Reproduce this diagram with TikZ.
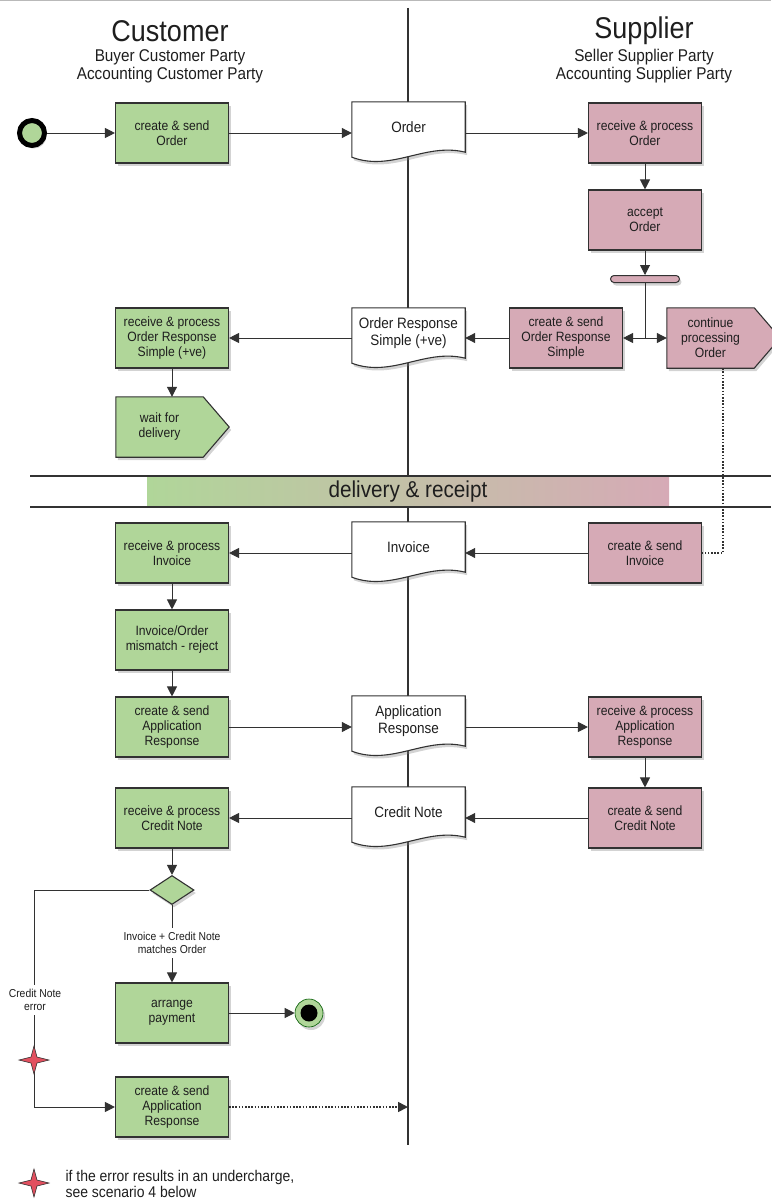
\documentclass[tikz,border=0pt]{standalone}
\usepackage{fontspec}
\setmainfont{Liberation Sans}[FakeStretch=0.9]
\usetikzlibrary{arrows.meta,shapes.geometric,shapes.misc,shadows,calc}
\pgfdeclarelayer{bgzero}
\pgfdeclarelayer{bgone}
\pgfsetlayers{bgzero,bgone,main}
\definecolor{tgreen}{RGB}{176,214,153}
\definecolor{tpink}{RGB}{214,170,182}
\definecolor{edge}{RGB}{50,50,50}
\definecolor{ink}{RGB}{30,30,30}
\definecolor{starred}{RGB}{226,80,95}
\tikzset{
 shad/.style={drop shadow={opacity=0.35,shadow xshift=2pt,shadow yshift=-3pt}},
 task/.style={rectangle, draw=edge, line width=1.1pt, minimum width=113pt, minimum height=60pt, inner sep=2pt, align=center, text=ink, font=\fontsize{13.5}{15}\selectfont, shad},
 ctask/.style={task, fill=tgreen},
 stask/.style={task, fill=tpink},
 docnode/.style={rectangle, minimum width=113pt, minimum height=50pt, inner sep=0pt, align=center, text=ink, font=\fontsize{15}{16.5}\selectfont},
 docline/.style={draw=edge, line width=1.1pt, fill=white, shad},
 pentbody/.style={rectangle, minimum width=87pt, minimum height=60pt, inner sep=0pt, align=center, text=ink, font=\fontsize{13.5}{15}\selectfont},
 arr/.style={-{Triangle[length=10pt,width=10pt]}, line width=1pt, draw=edge},
 conn/.style={line width=1pt, draw=edge},
 dots/.style={line width=1.6pt, draw=edge, dash pattern=on 1.6pt off 1.6pt},
 lane/.style={line width=1.2pt, draw=edge},
 lbl/.style={font=\fontsize{11.5}{12.5}\selectfont, align=center, text=ink, fill=white, inner xsep=1pt, inner ysep=5pt},
 hdr/.style={text=ink, font=\fontsize{30}{32}\selectfont},
 sub/.style={text=ink, align=center, font=\fontsize{17}{18}\selectfont},
 starpt/.style={inner sep=0pt, minimum size=0pt},
 starfill/.style={fill=starred, draw=edge, line width=0.6pt, line join=miter},
}
\newcommand\docoutline[1]{%
 \path[docline] (#1.north west) -- (#1.north east) -- (#1.south east)
   .. controls ($(#1.south east)+(-40pt,10pt)$) and ($(#1.south west)+(40pt,-20pt)$) .. ($(#1.south west)+(0pt,-5pt)$) -- cycle;}
\newcommand\pentoutline[2]{%
 \path[docline, fill=#2] (#1.north west) -- (#1.north east) -- ($(#1.east)+(26pt,0pt)$) -- (#1.south east) -- (#1.south west) -- cycle;}
\newcommand\fourstar[1]{%
 \path[starfill] ($(#1)+(15pt,0pt)$) -- ($(#1)+(3pt,3pt)$) -- ($(#1)+(0pt,14pt)$) -- ($(#1)+(-3pt,3pt)$)
   -- ($(#1)+(-15pt,0pt)$) -- ($(#1)+(-3pt,-3pt)$) -- ($(#1)+(0pt,-14pt)$) -- ($(#1)+(3pt,-3pt)$) -- cycle;}
\begin{document}
\begin{tikzpicture}[x=1pt,y=-1pt]
\useasboundingbox (0,0) rectangle (771,1199);
\draw[gray!55, line width=1pt] (0,1) -- (771,1);

% headers
\node[hdr] (hcust) at (170,31) {Customer};
\node[sub] (scust) at (170,66) {Buyer Customer Party\\Accounting Customer Party};
\node[hdr] (hsupp) at (644,31) {Supplier};
\node[sub] (ssupp) at (644,66) {Seller Supplier Party\\Accounting Supplier Party};

% lane and band
\begin{pgfonlayer}{bgzero}
\draw[lane] (408,8) -- (408,476);
\draw[lane] (408,507) -- (408,1145);
\shade[left color=tgreen, right color=tpink] (147,477) rectangle (669,506);
\draw[lane] (30,476) -- (771,476);
\draw[lane] (30,507) -- (771,507);
\end{pgfonlayer}
\node[text=ink, font=\fontsize{23}{25}\selectfont] (band) at (408,492) {delivery \& receipt};

% start / end
\node[circle, draw=black, line width=5pt, fill=tgreen, minimum size=25pt, inner sep=0pt, shad] (start) at (32,133) {};
\node[circle, draw=green!35!black, line width=0.6pt, fill=tgreen, minimum size=28pt, inner sep=0pt, shad] (endc) at (309,1013) {};
\fill[black] (endc.center) circle (8.5pt);

% customer tasks
\node[ctask] (cso) at (172,133) {create \& send\\Order};
\node[ctask] (rors) at (172,338) {receive \& process\\Order Response\\Simple (+ve)};
\node[pentbody] (wait) at (159.5,427) {wait for\\delivery};
\node[ctask] (rinv) at (172,553) {receive \& process\\Invoice};
\node[ctask] (mism) at (172,640) {Invoice/Order\\mismatch - reject};
\node[ctask] (car) at (172,727) {create \& send\\Application\\Response};
\node[ctask] (rcn) at (172,818) {receive \& process\\Credit Note};
\node[diamond, aspect=1.5, draw=edge, line width=1.1pt, fill=tgreen, minimum width=44pt, minimum height=29pt, inner sep=0pt, shad] (dia) at (172,890) {};
\node[ctask] (pay) at (172,1013) {arrange\\payment};
\node[ctask] (car2) at (172,1107) {create \& send\\Application\\Response};

% supplier tasks
\node[stask] (rpo) at (645,133) {receive \& process\\Order};
\node[stask] (acc) at (645,220) {accept\\Order};
\node[rounded rectangle, draw=edge, line width=1pt, fill=tpink, minimum width=69pt, minimum height=7pt, inner sep=0pt, shad] (fork) at (645,279) {};
\coordinate (split) at (645,338);
\node[stask] (cresp) at (566,338) {create \& send\\Order Response\\Simple};
\node[pentbody] (cont) at (710.5,338) {continue\\processing\\Order};
\node[stask] (cinv) at (645,553) {create \& send\\Invoice};
\node[stask] (rar) at (645,727) {receive \& process\\Application\\Response};
\node[stask] (ccn) at (645,818) {create \& send\\Credit Note};

% documents
\node[docnode] (dorder) at (408.5,127) {Order};
\node[docnode] (dors) at (408.5,333) {Order Response\\Simple (+ve)};
\node[docnode] (dinv) at (408.5,547) {Invoice};
\node[docnode] (dar) at (408.5,721) {Application\\Response};
\node[docnode] (dcn) at (408.5,812) {Credit Note};

\begin{pgfonlayer}{bgone}
\docoutline{dorder}
\docoutline{dors}
\docoutline{dinv}
\docoutline{dar}
\docoutline{dcn}
\pentoutline{wait}{tgreen}
\pentoutline{cont}{tpink}
\end{pgfonlayer}

\coordinate (lanehit) at (408,1107);

% connectors
\draw[arr] (start) -- (cso.west);
\draw[arr] (cso.east) -- (cso.east -| dorder.west);
\draw[arr] (rpo.west -| dorder.east) -- (rpo.west);
\draw[arr] (rpo.south) -- (acc.north);
\draw[arr] (acc.south) -- (fork.north);
\draw[conn] (fork.south) -- (split);
\draw[arr] (split) -- (cresp.east);
\draw[arr] (split) -- (cont.west);
\draw[arr] (cresp.west) -- (cresp.west -| dors.east);
\draw[arr] (cresp.west -| dors.west) -- (rors.east);
\draw[arr] (rors.south) -- (rors.south |- wait.north);
\draw[dots] ([xshift=12.5pt]cont.south) |- (cinv.east);
\draw[arr] (cinv.west) -- (cinv.west -| dinv.east);
\draw[arr] (cinv.west -| dinv.west) -- (rinv.east);
\draw[arr] (rinv.south) -- (mism.north);
\draw[arr] (mism.south) -- (car.north);
\draw[arr] (car.east) -- (car.east -| dar.west);
\draw[arr] (car.east -| dar.east) -- (rar.west);
\draw[arr] (rar.south) -- (ccn.north);
\draw[arr] (ccn.west) -- (ccn.west -| dcn.east);
\draw[arr] (ccn.west -| dcn.west) -- (rcn.east);
\draw[arr] (rcn.south) -- (dia.north);
\draw[arr] (dia.south) -- (pay.north);
\draw[arr] (pay.east) -- (endc.west);
\node[starpt] (star1) at (34,1060) {};
\draw[conn] (dia.west) -| (star1.center);
\draw[arr] (star1.center) |- (car2.west);
\draw[dots, -{Triangle[length=10pt,width=10pt]}] (car2.east) -- (lanehit);

% labels and stars
\node[lbl] (lmatch) at (172,943) {Invoice + Credit Note\\matches Order};
\node[lbl] (lerr) at (35,1000) {Credit Note\\error};
\fourstar{star1}
\node[starpt] (star2) at (34,1183) {};
\fourstar{star2}
\node[anchor=west, align=left, text=ink, font=\fontsize{15.5}{16.5}\selectfont] (legend) at (62,1184) {if the error results in an undercharge,\\see scenario 4 below};
\end{tikzpicture}
\end{document}
